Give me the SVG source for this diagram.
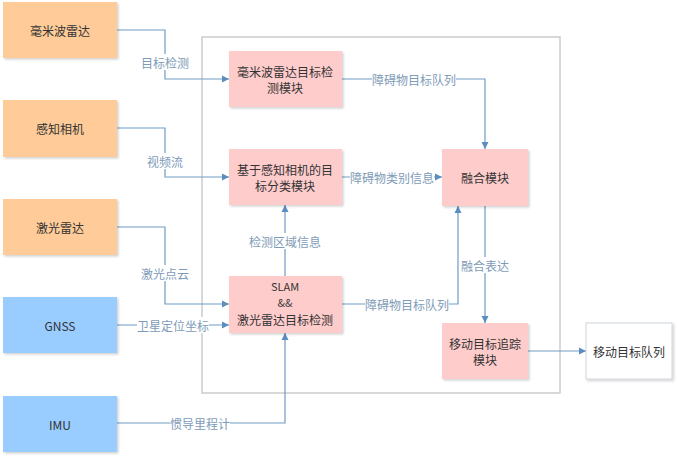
<svg xmlns="http://www.w3.org/2000/svg" width="677" height="458" viewBox="0 0 677 458">
<defs>
<marker id="arr" markerWidth="8" markerHeight="8" refX="7" refY="4" orient="auto" markerUnits="userSpaceOnUse">
<path d="M0,0.5 L7,4 L0,7.5 Z" fill="#5B8DBF"/>
</marker>
<filter id="sh" x="-10%" y="-10%" width="130%" height="130%">
<feDropShadow dx="1.5" dy="1.5" stdDeviation="1" flood-color="#000" flood-opacity="0.18"/>
</filter>
</defs>
<style>
.t{font-family:"Noto Sans CJK SC","Liberation Sans",sans-serif;font-size:12px;fill:#333;text-anchor:middle;dominant-baseline:central}
.s{font-size:11px}
.l{font-family:"Noto Sans CJK SC","Liberation Sans",sans-serif;font-size:12px;fill:#7E9BB8;text-anchor:middle;dominant-baseline:central}
.o{fill:#FFCC99;filter:url(#sh)}
.b{fill:#99CCFF;filter:url(#sh)}
.p{fill:#FFCCCC;filter:url(#sh)}
.w{fill:#fff;stroke:#D0D5DC;stroke-width:1;filter:url(#sh)}
.c{fill:none;stroke:#6E9BC5;stroke-width:1.2}
.lb{fill:#fff}
</style>
<rect width="677" height="458" fill="#fff"/>
<rect id="container" x="202" y="37" width="358" height="356" fill="none" stroke="#CCCCCC" stroke-width="1.5"/>
<g id="connectors">
<path class="c" d="M117,30 H165 V79 H229" marker-end="url(#arr)"/>
<path class="c" d="M117,128 H165 V177 H229" marker-end="url(#arr)"/>
<path class="c" d="M117,227 H165 V304 H229" marker-end="url(#arr)"/>
<path class="c" d="M117,325 H229" marker-end="url(#arr)"/>
<path class="c" d="M117,423 H285 V333" marker-end="url(#arr)"/>
<path class="c" d="M285,276 V205" marker-end="url(#arr)"/>
<path class="c" d="M342,79 H485 V149" marker-end="url(#arr)"/>
<path class="c" d="M342,177 H442" marker-end="url(#arr)"/>
<path class="c" d="M342,304 H458 V206" marker-end="url(#arr)"/>
<path class="c" d="M485,206 V323" marker-end="url(#arr)"/>
<path class="c" d="M528,351 H586" marker-end="url(#arr)"/>
<rect class="lb" x="141" y="54" width="48" height="16"/><text class="l" x="165" y="62">目标检测</text>
<rect class="lb" x="147" y="153" width="36" height="16"/><text class="l" x="165" y="161">视频流</text>
<rect class="lb" x="141" y="265" width="48" height="16"/><text class="l" x="165" y="273">激光点云</text>
<rect class="lb" x="137" y="317" width="72" height="16"/><text class="l" x="173" y="325">卫星定位坐标</text>
<rect class="lb" x="170" y="415" width="60" height="16"/><text class="l" x="200" y="423">惯导里程计</text>
<rect class="lb" x="249" y="233" width="72" height="16"/><text class="l" x="285" y="241">检测区域信息</text>
<rect class="lb" x="372" y="71" width="84" height="16"/><text class="l" x="414" y="79">障碍物目标队列</text>
<rect class="lb" x="350" y="169" width="84" height="16"/><text class="l" x="392" y="177">障碍物类别信息</text>
<rect class="lb" x="365" y="296" width="84" height="16"/><text class="l" x="407" y="304">障碍物目标队列</text>
<rect class="lb" x="461" y="257" width="48" height="16"/><text class="l" x="485" y="265">融合表达</text>
</g>
<g id="n1"><rect class="o" x="3" y="2" width="114" height="56"/><text class="t" x="60" y="30">毫米波雷达</text></g>
<g id="n2"><rect class="o" x="3" y="100" width="114" height="57"/><text class="t" x="60" y="128">感知相机</text></g>
<g id="n3"><rect class="o" x="3" y="199" width="114" height="56"/><text class="t" x="60" y="227">激光雷达</text></g>
<g id="n4"><rect class="b" x="3" y="297" width="114" height="56"/><text class="t" x="60" y="325">GNSS</text></g>
<g id="n5"><rect class="b" x="3" y="396" width="114" height="56"/><text class="t" x="60" y="424">IMU</text></g>
<g id="m1"><rect class="p" x="229" y="51" width="113" height="56"/><text class="t" x="285" y="71">毫米波雷达目标检</text><text class="t" x="285" y="87">测模块</text></g>
<g id="m2"><rect class="p" x="229" y="149" width="113" height="56"/><text class="t" x="285" y="169">基于感知相机的目</text><text class="t" x="285" y="185">标分类模块</text></g>
<g id="m3"><rect class="p" x="229" y="276" width="113" height="57"/><text class="t s" x="285" y="286">SLAM</text><text class="t s" x="285" y="302">&amp;&amp;</text><text class="t" x="285" y="319">激光雷达目标检测</text></g>
<g id="m4"><rect class="p" x="442" y="149" width="86" height="57"/><text class="t" x="485" y="177">融合模块</text></g>
<g id="m5"><rect class="p" x="442" y="323" width="86" height="56"/><text class="t" x="485" y="343">移动目标追踪</text><text class="t" x="485" y="359">模块</text></g>
<g id="out"><rect class="w" x="586" y="323" width="86" height="56"/><text class="t" x="629" y="351">移动目标队列</text></g>
</svg>
